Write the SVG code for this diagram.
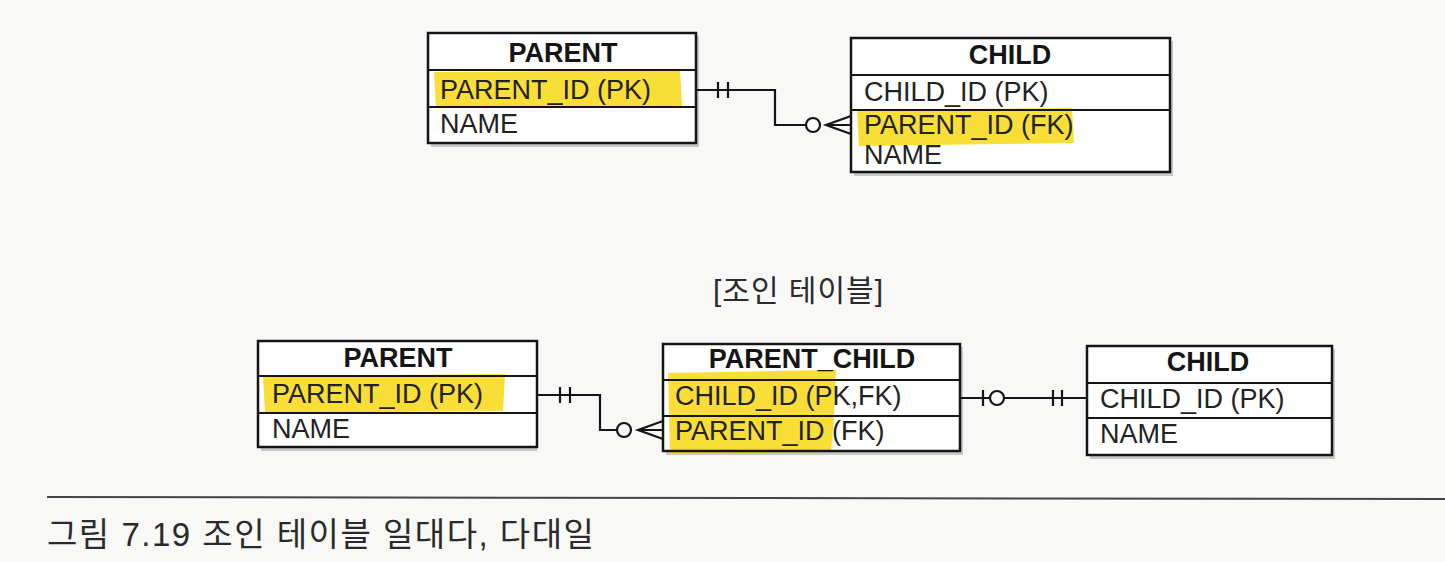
<svg xmlns="http://www.w3.org/2000/svg" width="1445" height="562" viewBox="0 0 1445 562">
<style>
.box{fill:#ffffff;stroke:none}
.frame{fill:none;stroke:#151515;stroke-width:2.5}
.div{stroke:#151515;stroke-width:2}
.hl{fill:#f7d814;opacity:0.85}
.hd{font-family:"Liberation Sans",Arial,sans-serif;font-weight:bold;font-size:27px;fill:#151515;text-anchor:middle}
.tx{font-family:"Liberation Sans",Arial,sans-serif;font-size:27px;fill:#222222}
.ln{fill:none;stroke:#151515;stroke-width:2.2}
.ko{font-family:"Liberation Sans","Noto Sans CJK KR",sans-serif;fill:#2a2a2a}
.shadow{fill:#999999;opacity:0.5}
</style>
<rect x="0" y="0" width="1445" height="562" fill="#f8f8f6"/>

<g id="parent-top">
<rect class="shadow" x="431" y="36" width="268" height="111"/>
<rect class="box" x="428" y="33" width="268" height="110"/>
<path class="hl" d="M434 72 L680 70 L682 106 L436 108 Z"/>
<line class="div" x1="428" y1="70" x2="696" y2="70"/>
<line class="div" x1="428" y1="107" x2="696" y2="107"/>
<rect class="frame" x="428" y="33" width="268" height="110"/>
<text class="hd" x="563" y="62">PARENT</text>
<text class="tx" x="440" y="99">PARENT_ID (PK)</text>
<text class="tx" x="440" y="133">NAME</text>
</g>

<g id="child-top">
<rect class="shadow" x="854" y="41" width="319" height="135"/>
<rect class="box" x="851" y="38" width="319" height="134"/>
<path class="hl" d="M857 110 L1072 108 L1074 143 L859 146 Z"/>
<line class="div" x1="851" y1="75" x2="1170" y2="75"/>
<line class="div" x1="851" y1="110" x2="1170" y2="110"/>
<rect class="frame" x="851" y="38" width="319" height="134"/>
<text class="hd" x="1010" y="64">CHILD</text>
<text class="tx" x="864" y="101">CHILD_ID (PK)</text>
<text class="tx" x="864" y="134">PARENT_ID (FK)</text>
<text class="tx" x="864" y="164">NAME</text>
</g>

<g id="parent-bottom">
<rect class="shadow" x="261" y="344" width="276" height="107"/>
<rect class="box" x="258" y="341" width="279" height="106"/>
<path class="hl" d="M263 376 L505 374 L503 411 L265 413 Z"/>
<line class="div" x1="258" y1="376" x2="537" y2="376"/>
<line class="div" x1="258" y1="413" x2="537" y2="413"/>
<rect class="frame" x="258" y="341" width="279" height="106"/>
<text class="hd" x="398" y="367">PARENT</text>
<text class="tx" x="272" y="403">PARENT_ID (PK)</text>
<text class="tx" x="272" y="438">NAME</text>
</g>

<g id="parent-child">
<rect class="shadow" x="666" y="347" width="297" height="108"/>
<rect class="box" x="663" y="344" width="297" height="107"/>
<path class="hl" d="M668 373 L836 370 L834 416 L831 452 L670 454 Z"/>
<line class="div" x1="663" y1="380" x2="960" y2="380"/>
<line class="div" x1="663" y1="416" x2="960" y2="416"/>
<rect class="frame" x="663" y="344" width="297" height="107"/>
<text class="hd" x="812" y="368">PARENT_CHILD</text>
<text class="tx" x="675" y="405">CHILD_ID (PK,FK)</text>
<text class="tx" x="675" y="440">PARENT_ID (FK)</text>
</g>

<g id="child-bottom">
<rect class="shadow" x="1090" y="349" width="245" height="110"/>
<rect class="box" x="1087" y="346" width="245" height="109"/>
<line class="div" x1="1087" y1="383" x2="1332" y2="383"/>
<line class="div" x1="1087" y1="418" x2="1332" y2="418"/>
<rect class="frame" x="1087" y="346" width="245" height="109"/>
<text class="hd" x="1208" y="371">CHILD</text>
<text class="tx" x="1100" y="408">CHILD_ID (PK)</text>
<text class="tx" x="1100" y="443">NAME</text>
</g>

<g id="connectors">
<path class="ln" d="M696 90 H775 V125 H806"/>
<line class="ln" x1="718" y1="82" x2="718" y2="98"/>
<line class="ln" x1="728" y1="82" x2="728" y2="98"/>
<circle class="ln" cx="813" cy="125" r="7" fill="#ffffff"/>
<path class="ln" d="M851 116 L826 125 L851 134 M826 125 H851"/>
<path class="ln" d="M537 395 H600 V430 H617"/>
<line class="ln" x1="560" y1="387" x2="560" y2="403"/>
<line class="ln" x1="570" y1="387" x2="570" y2="403"/>
<circle class="ln" cx="624" cy="430" r="7" fill="#ffffff"/>
<path class="ln" d="M663 421 L638 430 L663 439 M638 430 H663"/>
<path class="ln" d="M960 398 H990 M1004 398 H1087"/>
<line class="ln" x1="983" y1="390" x2="983" y2="406"/>
<circle class="ln" cx="997" cy="398" r="7" fill="#ffffff"/>
<line class="ln" x1="1053" y1="390" x2="1053" y2="406"/>
<line class="ln" x1="1062" y1="390" x2="1062" y2="406"/>
</g>

<text class="ko" x="713" y="301" font-size="30" letter-spacing="1">[조인 테이블]</text>
<line x1="47" y1="497" x2="1445" y2="499" stroke="#444444" stroke-width="2"/>
<text class="ko" x="47" y="546" font-size="33" letter-spacing="1.5" fill="#3a3a3a">그림 7.19 조인 테이블 일대다, 다대일</text>
</svg>
